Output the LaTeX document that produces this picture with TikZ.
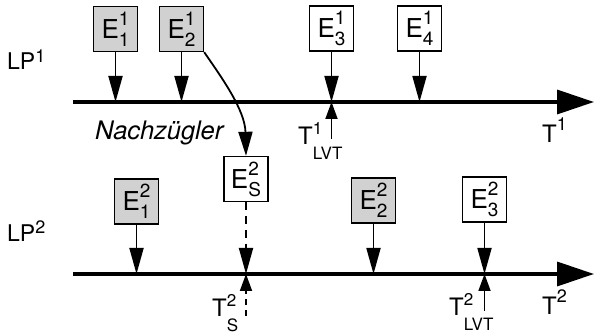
\documentclass[tikz,border=0pt]{standalone}
\usepackage{fontspec}
\setmainfont{TeX Gyre Heros}
\setsansfont{TeX Gyre Heros}
\usetikzlibrary{arrows.meta}
\newcommand\evlab[2]{E\rlap{\raisebox{13pt}{\fontsize{19}{19}\selectfont #1}}\raisebox{-8pt}{\fontsize{19}{19}\selectfont #2}}
\newcommand\tlab[3]{T\rlap{\raisebox{10pt}{\fontsize{17}{17}\selectfont #2}}\raisebox{-15pt}{\fontsize{17}{17}\selectfont #3}}
\newcommand\plab[3]{#1\raisebox{#3}{\fontsize{18}{18}\selectfont #2}}
\begin{document}
\begin{tikzpicture}[x=1pt,y=-1pt,
  ev/.style={draw,line width=1.4pt,minimum width=44pt,minimum height=45pt,inner sep=0pt,font=\fontsize{26}{28}\selectfont},
  evs/.style={ev,fill=black!18},
  stem/.style={line width=1.8pt,-{Triangle[length=26pt,width=14pt]}},
  upstem/.style={line width=1.8pt,-{Triangle[length=17pt,width=12pt]}},
  axis/.style={line width=3.5pt,-{Triangle[length=37pt,width=24pt]}},
  lbl/.style={font=\fontsize{23}{26}\selectfont,inner sep=0pt,anchor=base west},
  tl/.style={font=\fontsize{24}{26}\selectfont,inner sep=0pt,anchor=base west}]
\useasboundingbox (0,0) rectangle (594,336);
% axes
\coordinate (a1s) at (73,102);
\coordinate (a1e) at (594,102);
\coordinate (a2s) at (73,274);
\coordinate (a2e) at (594,274);
\draw[axis] (a1s) -- (a1e);
\draw[axis] (a2s) -- (a2e);
% LP1 events
\node[evs] (E11) at (115.5,29) {\evlab{1}{1}};
\node[evs] (E21) at (181.5,29) {\evlab{1}{2}};
\node[ev]  (E31) at (331.5,28.5) {\evlab{1}{3}};
\node[ev]  (E41) at (419.5,28.5) {\evlab{1}{4}};
\draw[stem] (E11.south) -- (E11.south |- a1s);
\draw[stem] (E21.south) -- (E21.south |- a1s);
\draw[stem] (E31.south) -- (E31.south |- a1s);
\draw[stem] (E41.south) -- (E41.south |- a1s);
% LP2 events
\node[ev]  (ES2) at (246,179) {\evlab{2}{S}};
\node[evs] (E12) at (136.5,201.5) {\evlab{2}{1}};
\node[evs] (E22) at (373.5,200.5) {\evlab{2}{2}};
\node[ev]  (E32) at (484.5,199.5) {\evlab{2}{3}};
\draw[stem] (E12.south) -- (E12.south |- a2s);
\draw[stem] (E22.south) -- (E22.south |- a2s);
\draw[stem] (E32.south) -- (E32.south |- a2s);
\draw[stem,dash pattern=on 8pt off 6pt] (ES2.south) -- (ES2.south |- a2s);
% straggler
\draw[line width=1.8pt,-{Triangle[length=24pt,width=14pt]}] (E21.south east) .. controls (222,78) and (245,110) .. (ES2.north);
% LVT markers
\coordinate (t1) at (331.5,139);
\draw[upstem] (t1) -- (t1 |- a1s);
\coordinate (t2) at (484.5,311);
\draw[upstem] (t2) -- (t2 |- a2s);
\coordinate (ts) at (246,316);
\draw[upstem,dash pattern=on 6pt off 5pt] (ts) -- (ts |- a2s);
% labels
\node[lbl] (LP1) at (7,70) {\plab{LP}{1}{7pt}};
\node[lbl] (LP2) at (7,242) {\plab{LP}{2}{8pt}};
\node[tl] (T1) at (542,143) {\plab{T}{1}{12pt}};
\node[tl] (T2) at (542,315) {\plab{T}{2}{12pt}};
\node[tl] (T1L) at (298,145) {\tlab{T}{1}{LVT}};
\node[tl] (T2L) at (449,316) {\tlab{T}{2}{LVT}};
\node[tl] (T2S) at (212,317) {\tlab{T}{2}{S}};
\node[font=\fontsize{25.5}{28}\selectfont\itshape,inner sep=0pt,anchor=base west] (NZ) at (95,140) {Nachzügler};
\end{tikzpicture}
\end{document}
